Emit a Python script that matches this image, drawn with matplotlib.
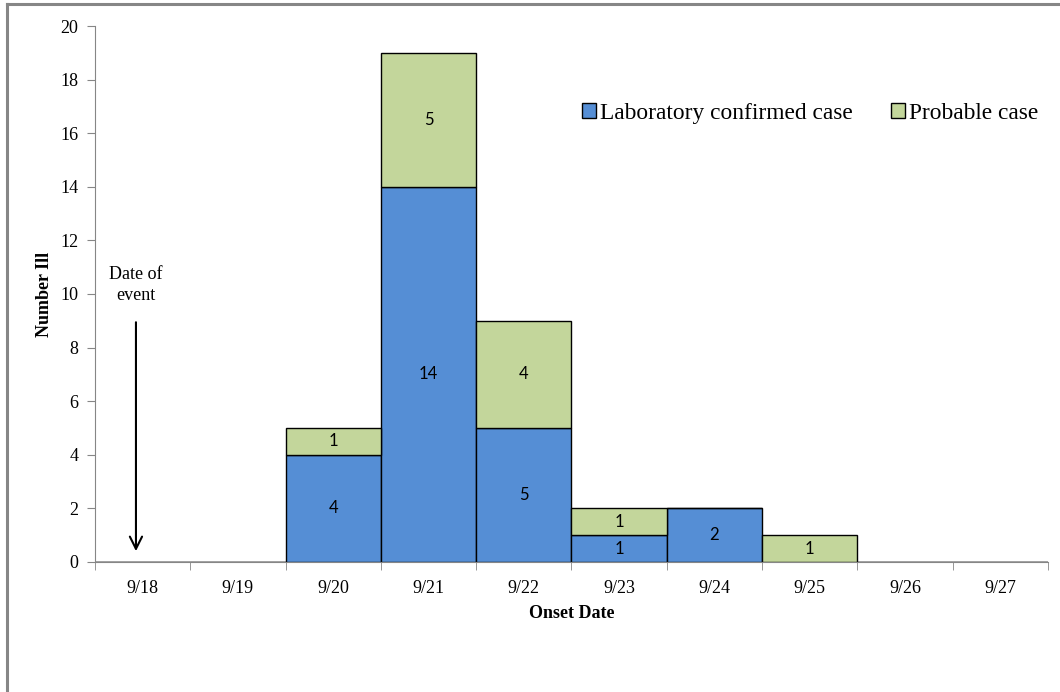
import matplotlib.pyplot as plt
import numpy as np
from matplotlib.lines import Line2D

dates = ['9/18', '9/19', '9/20', '9/21', '9/22', '9/23', '9/24', '9/25', '9/26', '9/27']
confirmed = [0, 0, 4, 14, 5, 1, 2, 0, 0, 0]
probable = [0, 0, 1, 5, 4, 1, 0, 1, 0, 0]

blue = '#558ED5'
green = '#C3D69B'
gray = '#868686'

plt.rcParams['font.family'] = ['Liberation Serif', 'DejaVu Serif']

fig = plt.figure(figsize=(10.6, 6.92), dpi=100)
ax = fig.add_axes([0.0896, 0.1879, 0.8991, 0.7745])

x = np.arange(len(dates))
ax.bar(x, confirmed, width=1.0, color=blue, edgecolor='black', linewidth=1,
       label='Laboratory confirmed case')
ax.bar(x, probable, width=1.0, bottom=confirmed, color=green, edgecolor='black',
       linewidth=1, label='Probable case')

for i in range(len(dates)):
    if confirmed[i] > 0:
        ax.text(x[i], confirmed[i] / 2, str(confirmed[i]), ha='center', va='center',
                fontsize=12, family='Lato')
    if probable[i] > 0:
        ax.text(x[i], confirmed[i] + probable[i] / 2, str(probable[i]), ha='center',
                va='center', fontsize=12, family='Lato')

ax.set_xlim(-0.5, len(dates) - 0.5)
ax.set_ylim(0, 20)
ax.set_yticks(range(0, 21, 2))
ax.set_xticks(x)
ax.set_xticklabels(dates)
ax.set_xticks(np.arange(-0.5, len(dates), 1), minor=True)
ax.tick_params(axis='x', which='major', length=0, pad=13, labelsize=13)
ax.tick_params(axis='x', which='minor', length=6, color=gray, direction='out')
ax.tick_params(axis='y', length=6, color=gray, labelsize=13, pad=6)

for s in ['top', 'right']:
    ax.spines[s].set_visible(False)
for s in ['left', 'bottom']:
    ax.spines[s].set_color(gray)

ax.set_ylabel('Number Ill', fontsize=13, fontweight='bold', labelpad=5)
ax.set_xlabel('Onset Date', fontsize=13, fontweight='bold', labelpad=6)

ax.annotate('', xy=(-0.07, 0.3), xytext=(-0.07, 9.05),
            arrowprops=dict(arrowstyle='->', color='black', lw=1.5, mutation_scale=22))
ax.text(-0.07, 10.35, 'Date of\nevent', ha='center', va='center', fontsize=13,
        linespacing=1.3)

ax.legend(loc='upper right', bbox_to_anchor=(1.012, 0.896), ncol=2, frameon=False,
          fontsize=16.8, handlelength=0.6, handleheight=0.6, handletextpad=0.2,
          columnspacing=1.6)

fig.add_artist(Line2D([0.0066, 0.0066], [0, 0.994], color=gray, lw=2.2,
                      transform=fig.transFigure))
fig.add_artist(Line2D([0.0066, 1.0], [0.994, 0.994], color=gray, lw=2.2,
                      transform=fig.transFigure))

fig.savefig('out.png', dpi=100)
